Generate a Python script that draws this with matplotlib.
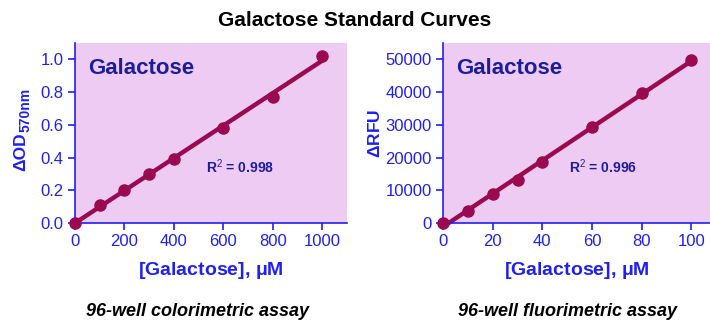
import numpy as np
import matplotlib
matplotlib.use('Agg')
import matplotlib.pyplot as plt

plt.rcParams['font.family'] = ['Liberation Sans', 'DejaVu Sans']
plt.rcParams['mathtext.fontset'] = 'custom'
plt.rcParams['mathtext.rm'] = 'Liberation Sans'
plt.rcParams['mathtext.bf'] = 'Liberation Sans:bold'

## colorimetric assay (ΔOD570nm)
conc_od = [0, 100, 200, 300, 400, 600, 800, 1000]
od_vals = [0.0, 0.11, 0.20, 0.30, 0.39, 0.58, 0.77, 1.02]
od_ticks = [0.0, 0.2, 0.4, 0.6, 0.8, 1.0]
od_xticks = [0, 200, 400, 600, 800, 1000]

## fluorimetric assay (ΔRFU)
conc_fl = [0, 10, 20, 30, 40, 60, 80, 100]
rfu_vals = [0, 3800, 8800, 13100, 18500, 29300, 39800, 49700]
rfu_ticks = [0, 10000, 20000, 30000, 40000, 50000]
rfu_xticks = [0, 20, 40, 60, 80, 100]

BG = '#eecbf3'
LINE = '#990a50'
BLUE = '#1f1ff5'
NAVY = '#1c1c9c'

fig = plt.figure(figsize=(7.1, 3.22), dpi=100)
fig.text(0.5, 0.935, 'Galactose Standard Curves', ha='center', va='center',
         fontsize=15, fontweight='bold')


def panel(rect, x, y, xticks, yticks, xlim, ylim, ylabel, r2, r2pos, fmt, caption, capx):
    ax = fig.add_axes(rect)
    ax.set_facecolor(BG)
    # fit line drawn from fitted slope/intercept
    slope, icpt = np.polyfit(x, y, 1)
    xs = np.array([x[0], x[-1]])
    ax.plot(xs, slope * xs + icpt, color=LINE, lw=3.2, zorder=2, clip_on=False)
    ax.plot(x, y, 'o', color=LINE, ms=8, zorder=3, clip_on=False)
    ax.set_xlim(*xlim)
    ax.set_ylim(*ylim)
    ax.set_xticks(xticks)
    ax.set_yticks(yticks)
    ax.set_yticklabels([fmt(v) for v in yticks])
    for s in ['top', 'right']:
        ax.spines[s].set_visible(False)
    for s in ['left', 'bottom']:
        ax.spines[s].set_color(BLUE)
        ax.spines[s].set_linewidth(1.2)
    ax.tick_params(colors=BLUE, labelsize=12, length=5, width=1.2, direction='out', pad=3)
    ax.set_xlabel(r'[Galactose], $\mathbf{\mu}$M', color=BLUE, fontsize=14,
                  fontweight='bold', labelpad=8)
    if ylabel:
        ax.set_ylabel(ylabel, color=BLUE, fontsize=12.5, fontweight='bold', labelpad=2)
    ax.text(0.05, 0.86, 'Galactose', transform=ax.transAxes, color=NAVY,
            fontsize=16, fontweight='bold', va='center')
    ax.text(r2pos[0], r2pos[1], r'R$^2$ = ' + r2, transform=ax.transAxes, color=NAVY,
            fontsize=10, fontweight='bold', va='center')
    fig.text(capx, 0.034, caption, ha='center', va='center', fontsize=13,
             fontweight='bold', style='italic')
    return ax


panel([0.1056, 0.3075, 0.383, 0.559], conc_od, od_vals, od_xticks, od_ticks,
      (0, 1100), (0, 1.1), None, '0.998', (0.48, 0.31),
      lambda v: f'{v:.1f}', '96-well colorimetric assay', 0.278)
# ΔOD with a large 570nm subscript
fig.text(21 / 710, 1 - 152 / 322, 'ΔOD', rotation=90, ha='center', va='center',
         color=BLUE, fontsize=12.5, fontweight='bold')
fig.text(26 / 710, 1 - 110 / 322, '570nm', rotation=90, ha='center', va='center',
         color=BLUE, fontsize=10, fontweight='bold')

panel([0.624, 0.3075, 0.376, 0.559], conc_fl, rfu_vals, rfu_xticks, rfu_ticks,
      (0, 107.5), (0, 55000), r'$\mathbf{\Delta}$RFU', '0.996', (0.47, 0.31),
      lambda v: f'{v:d}', '96-well fluorimetric assay', 0.80)

fig.savefig('out.png', dpi=100)
